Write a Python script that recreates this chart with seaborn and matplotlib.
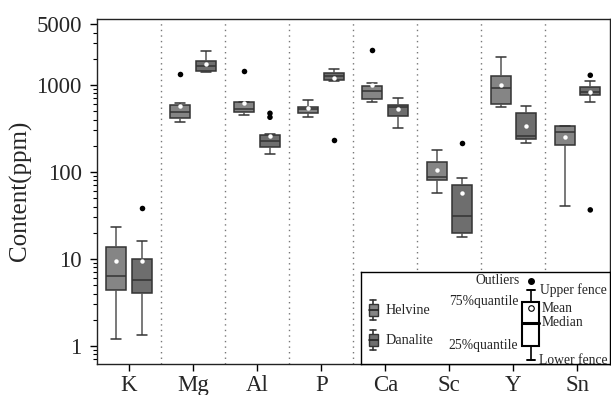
import numpy as np
import pandas as pd
import matplotlib
matplotlib.use("Agg")
import matplotlib.pyplot as plt
import seaborn as sns
from matplotlib.patches import Rectangle

# elements on the x axis
elements = ["K", "Mg", "Al", "P", "Ca", "Sc", "Y", "Sn"]
minerals = ["Helvine", "Danalite"]

# five-number summaries (ppm): lower fence, Q1, median, Q3, upper fence
helvine_lo = [1.2, 378, 452, 432, 638, 57, 558, 41]
helvine_q1 = [4.4, 421, 493, 481, 690, 81, 600, 203]
helvine_med = [6.3, 493, 526, 530, 854, 87, 924, 286]
helvine_q3 = [13.6, 589, 632, 563, 975, 131, 1259, 333]
helvine_hi = [23.5, 626, 640, 678, 1062, 179, 2118, 338]
helvine_mean = [9.4, 574, 626, 541, 995, 105, 1007, 250]

danalite_lo = [1.34, 1400, 161, 1122, 321, 17.8, 214, 638]
danalite_q1 = [4.1, 1460, 195, 1141, 444, 19.7, 242, 773]
danalite_med = [5.7, 1667, 229, 1268, 555, 31.5, 259, 823]
danalite_q3 = [9.9, 1888, 268, 1387, 589, 70, 472, 955]
danalite_hi = [16.2, 2477, 270, 1515, 715, 85, 569, 1112]
danalite_mean = [9.4, 1743, 257, 1202, 530, 57, 341, 830]

# outliers (element, mineral, value)
outlier_element = ["K", "Mg", "Al", "Al", "Al", "P", "Ca", "Sc", "Sn", "Sn"]
outlier_mineral = ["Danalite", "Helvine", "Helvine", "Danalite", "Danalite",
                   "Danalite", "Helvine", "Danalite", "Danalite", "Danalite"]
outlier_value = [38, 1337, 1460, 472, 425, 231, 2525, 214, 1291, 36.6]


def build_frames():
    rows = []
    for mineral, parts in [("Helvine", [helvine_lo, helvine_q1, helvine_med, helvine_q3, helvine_hi]),
                           ("Danalite", [danalite_lo, danalite_q1, danalite_med, danalite_q3, danalite_hi])]:
        for i, el in enumerate(elements):
            for p in parts:
                rows.append({"element": el, "mineral": mineral, "value": p[i]})
    box_df = pd.DataFrame(rows)
    mean_df = pd.DataFrame({
        "element": elements * 2,
        "mineral": ["Helvine"] * len(elements) + ["Danalite"] * len(elements),
        "value": helvine_mean + danalite_mean,
    })
    out_df = pd.DataFrame({"element": outlier_element, "mineral": outlier_mineral,
                           "value": outlier_value})
    return box_df, mean_df, out_df


def draw_legend(fig):
    # legend panel drawn in pixel-like coordinates
    lax = fig.add_axes([361 / 611, 1 - 364 / 395, 249 / 611, 92 / 395])
    lax.set_xlim(361, 610)
    lax.set_ylim(364, 272)
    lax.set_xticks([])
    lax.set_yticks([])
    lax.set_facecolor("white")
    for s in lax.spines.values():
        s.set_color("black")
        s.set_linewidth(1.0)

    for yc, name, col in [(310, "Helvine", "#858585"), (340, "Danalite", "#6e6e6e")]:
        lax.plot([373, 373], [yc - 10, yc + 10], color="#333333", lw=1.2)
        lax.plot([370, 376], [yc - 10, yc - 10], color="#333333", lw=1.2)
        lax.plot([370, 376], [yc + 10, yc + 10], color="#333333", lw=1.2)
        lax.add_patch(Rectangle((368.5, yc - 6), 9, 12, facecolor=col,
                                edgecolor="#333333", lw=1.0, zorder=3))
        lax.plot([368.5, 377.5], [yc, yc], color="#222222", lw=1.2, zorder=4)
        lax.text(386, yc + 1, name, ha="left", va="center", fontsize=10.2)

    # schematic box
    xc = 530.5
    lax.plot([xc, xc], [290, 302], color="black", lw=1.2)
    lax.plot([xc, xc], [346, 360], color="black", lw=1.2)
    lax.plot([xc - 4, xc + 4], [290, 290], color="black", lw=1.4)
    lax.plot([xc - 4, xc + 4], [360, 360], color="black", lw=1.4)
    lax.add_patch(Rectangle((522, 302), 17, 44, facecolor="white",
                            edgecolor="black", lw=1.5, zorder=3))
    lax.plot([522, 539], [323, 323], color="black", lw=2.2, zorder=4)
    lax.plot([xc], [308], marker="o", ms=4, mfc="white", mec="black", mew=0.8, zorder=5)
    lax.plot([xc], [281], marker="o", ms=4, color="black", zorder=5)

    fs = 9.8
    lax.text(520, 281, "Outliers", ha="right", va="center", fontsize=fs)
    lax.text(540, 290, "Upper fence", ha="left", va="center", fontsize=fs)
    lax.text(518, 302, "75%quantile", ha="right", va="center", fontsize=fs)
    lax.text(542, 308, "Mean", ha="left", va="center", fontsize=fs)
    lax.text(542, 323, "Median", ha="left", va="center", fontsize=fs)
    lax.text(518, 346, "25%quantile", ha="right", va="center", fontsize=fs)
    lax.text(539, 360, "Lower fence", ha="left", va="center", fontsize=fs)


def main():
    sns.set_style("ticks")
    plt.rcParams["font.family"] = ["Liberation Serif", "DejaVu Serif"]

    box_df, mean_df, out_df = build_frames()
    palette = {"Helvine": "#858585", "Danalite": "#6e6e6e"}

    fig = plt.figure(figsize=(6.11, 3.95), dpi=100)
    ax = fig.add_axes([97 / 611, 1 - 364 / 395, 512.5 / 611, (364 - 18.5) / 395])
    ax.set_yscale("log")

    sns.boxplot(data=box_df, x="element", y="value", hue="mineral",
                order=elements, hue_order=minerals, palette=palette,
                width=0.8, gap=0.22, whis=np.inf, showfliers=False,
                saturation=1, linecolor="#333333", linewidth=1.1,
                whiskerprops={"color": "#555555"}, capprops={"color": "#333333"},
                legend=False, ax=ax)
    sns.stripplot(data=mean_df, x="element", y="value", hue="mineral",
                  order=elements, hue_order=minerals, dodge=True, jitter=False,
                  palette={"Helvine": "white", "Danalite": "white"},
                  size=3.2, linewidth=0, legend=False, zorder=5, ax=ax)
    sns.stripplot(data=out_df, x="element", y="value", hue="mineral",
                  order=elements, hue_order=minerals, dodge=True, jitter=False,
                  palette={"Helvine": "black", "Danalite": "black"},
                  size=4, linewidth=0, legend=False, zorder=5, ax=ax)

    for i in range(len(elements) - 1):
        ax.axvline(i + 0.5, color="#777777", ls=(0, (1, 3)), lw=1.0, zorder=0)

    ax.set_xlim(-0.5, len(elements) - 0.5)
    ax.set_ylim(0.62, 5800)
    ax.set_yticks([1, 10, 100, 1000, 5000])
    ax.set_yticklabels(["1", "10", "100", "1000", "5000"])
    ax.set_xlabel("")
    ax.set_ylabel("Content(ppm)", fontsize=18, labelpad=3)
    ax.tick_params(axis="both", which="major", labelsize=16.5, length=5,
                   width=1, direction="out", color="black")
    ax.tick_params(axis="y", which="major", pad=6)
    ax.tick_params(axis="x", which="major", pad=3)
    ax.tick_params(axis="y", which="minor", length=3, width=0.8, color="black")
    for s in ax.spines.values():
        s.set_color("#222222")
        s.set_linewidth(1.0)
        s.set_visible(True)

    draw_legend(fig)
    fig.savefig("out.png", dpi=100)


if __name__ == "__main__":
    main()
